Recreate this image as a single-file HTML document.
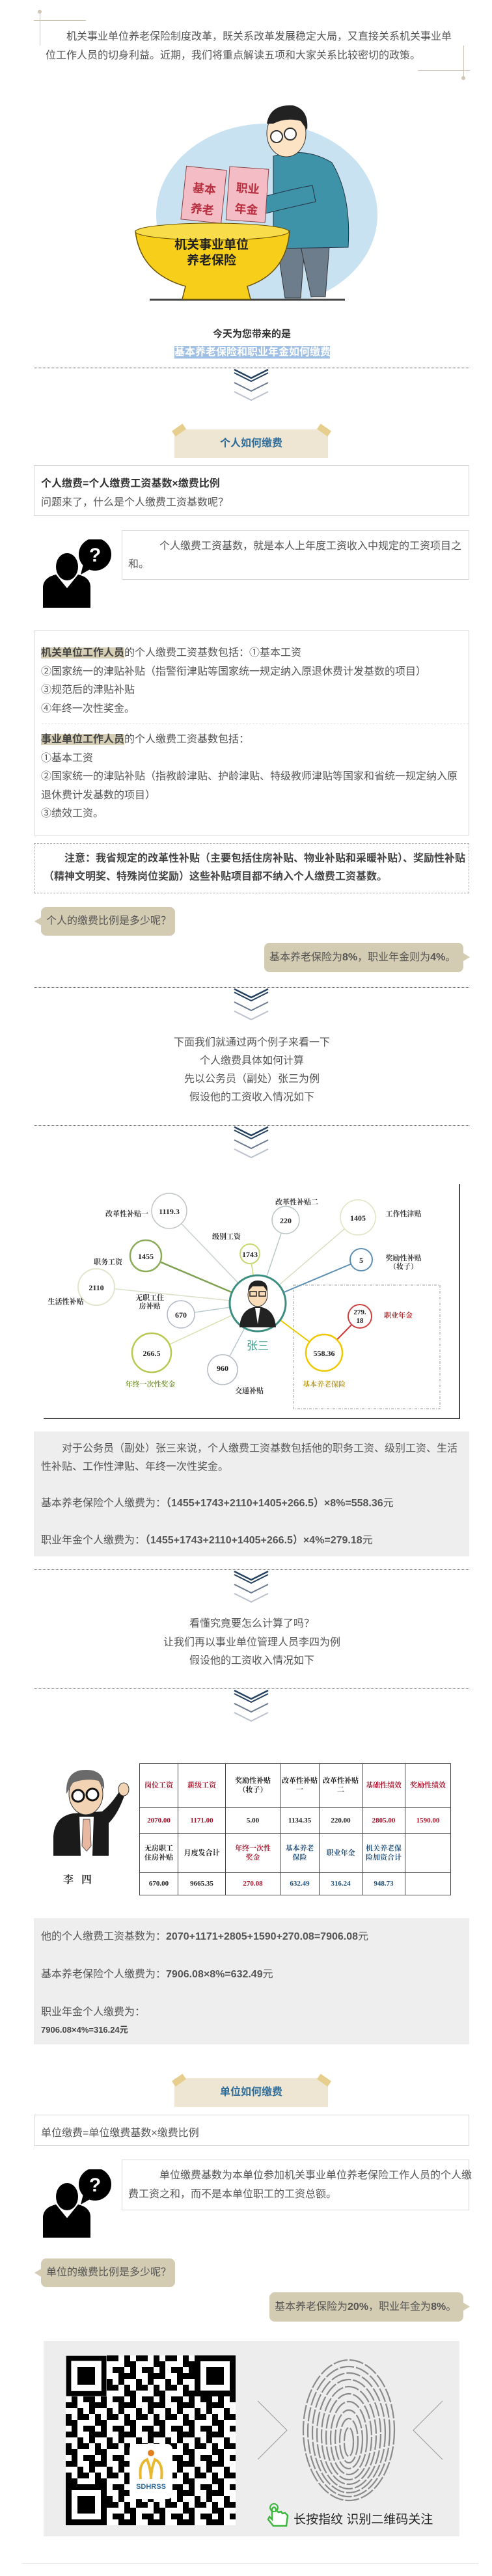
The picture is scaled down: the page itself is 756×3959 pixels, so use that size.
<!DOCTYPE html>
<html><head><meta charset="utf-8">
<style>
*{margin:0;padding:0;box-sizing:border-box}
body{width:756px;height:3959px;position:relative;background:#fff;font-family:"Liberation Sans","Noto Sans CJK SC",sans-serif;color:#555;overflow:hidden}
.a{position:absolute}
.t{font-size:16px;white-space:nowrap}
.dot{position:absolute;left:52px;width:669px;border-top:1px dotted #444;height:0}
.box{position:absolute;border:1px solid #d8d8d4;background:#fff}
.bub{position:absolute;background:#d3ccb2;border-radius:8px;font-size:16px;color:#555;white-space:nowrap}
.gray{position:absolute;left:52px;width:669px;background:#eeeeee}
.hl{background:#d6cfb5;font-weight:bold;color:#444}
.tab{position:absolute;left:268px;width:236px;height:44px;background:#efe5d3;text-align:center;font-size:16px;font-weight:bold;color:#2e6d9a}
.tape{position:absolute;width:20px;height:10px;background:#e6cf8e}
table.tb{position:absolute;left:214px;top:2710px;width:479px;border-collapse:collapse;font-family:"Liberation Serif","Noto Serif CJK SC",serif;font-weight:bold;font-size:11px;text-align:center;color:#222}
table.tb td{border:1.5px solid #444;padding:0 1px;line-height:14px}
.r{color:#a8122a}.b{color:#1e4e7a}
</style></head><body>

<!-- intro corners -->
<div class="a" style="left:61px;top:17px;width:1px;height:53px;background:#cfc7b3"></div>
<div class="a" style="left:52px;top:31px;width:80px;height:1px;background:#cfc7b3"></div>
<div class="a" style="left:58px;top:15px;width:6px;height:6px;border-radius:3px;background:#cfc7b3"></div>
<div class="a" style="left:712px;top:70px;width:1px;height:50px;background:#cfc7b3"></div>
<div class="a" style="left:642px;top:108px;width:80px;height:1px;background:#cfc7b3"></div>
<div class="a" style="left:709px;top:117px;width:6px;height:6px;border-radius:3px;background:#cfc7b3"></div>
<div class="a t" style="left:70px;top:42px;line-height:29px;">　　机关事业单位养老保险制度改革，既关系改革发展稳定大局，又直接关系机关事业单<br>位工作人员的切身利益。近期，我们将重点解读五项和大家关系比较密切的政策。</div>

<!-- illustration -->
<svg class="a" style="left:200px;top:145px" width="390" height="320" viewBox="200 145 390 320">
<defs><clipPath id="cp"><rect x="200" y="145" width="390" height="317"/></clipPath></defs>
<g clip-path="url(#cp)">
<ellipse cx="410" cy="330" rx="170" ry="140" fill="#c9e2f1"/>
<rect x="230" y="459" width="300" height="3" fill="#444"/>
<!-- legs -->
<path d="M426 378 L468 378 L462 458 L438 458 Z" fill="#6d7d8c" stroke="#333"/>
<path d="M462 378 L506 378 L500 456 L478 456 Z" fill="#6d7d8c" stroke="#333"/>
<!-- body -->
<path d="M420 240 Q470 225 510 250 Q540 300 535 380 L420 382 Z" fill="#3f93a8" stroke="#234"/>
<path d="M395 305 Q450 290 480 285 L485 310 Q440 320 400 330 Z" fill="#3f93a8" stroke="#234"/>
<!-- head -->
<ellipse cx="440" cy="205" rx="30" ry="36" fill="#fbe3c3" stroke="#333"/>
<path d="M410 190 Q415 160 450 162 Q475 168 472 200 L462 186 Q440 180 420 190 Z" fill="#222"/>
<circle cx="425" cy="210" r="9" fill="#fff" stroke="#333" stroke-width="2"/>
<circle cx="446" cy="206" r="9" fill="#fff" stroke="#333" stroke-width="2"/>
<!-- books -->
<g transform="rotate(6 310 300)"><rect x="282" y="258" width="62" height="82" fill="#f4bdc5" stroke="#844"/>
<text x="313" y="296" font-size="18" font-weight="bold" fill="#b83040" text-anchor="middle" font-family="Noto Sans CJK SC">基本</text>
<text x="313" y="328" font-size="18" font-weight="bold" fill="#b83040" text-anchor="middle" font-family="Noto Sans CJK SC">养老</text></g>
<g transform="rotate(4 380 300)"><rect x="350" y="258" width="60" height="82" fill="#f4bdc5" stroke="#844"/>
<text x="380" y="296" font-size="18" font-weight="bold" fill="#b83040" text-anchor="middle" font-family="Noto Sans CJK SC">职业</text>
<text x="380" y="328" font-size="18" font-weight="bold" fill="#b83040" text-anchor="middle" font-family="Noto Sans CJK SC">年金</text></g>
<!-- bowl -->
<path d="M208 355 Q325 340 445 355 Q440 420 380 440 L385 460 L280 460 L285 440 Q215 420 208 355 Z" fill="#f7cf1a" stroke="#6a5200" stroke-width="1.5"/>
<ellipse cx="326" cy="356" rx="118" ry="13" fill="#f9dc4a" stroke="#6a5200"/>
<text x="325" y="382" font-size="19" font-weight="bold" fill="#222" text-anchor="middle" font-family="Noto Sans CJK SC">机关事业单位</text>
<text x="325" y="406" font-size="19" font-weight="bold" fill="#222" text-anchor="middle" font-family="Noto Sans CJK SC">养老保险</text>
</g></svg>

<div class="a" style="left:0;width:774px;top:502px;text-align:center;font-size:15px;font-weight:bold;color:#333">今天为您带来的是</div>
<div class="a" style="left:268px;top:532px;width:239px;height:19px;background:#9fbfe4;color:#fff;font-weight:bold;font-size:16px;line-height:19px;white-space:nowrap">基本养老保险和职业年金如何缴费</div>

<div class="dot" style="top:565px"></div>
<svg class="a" style="left:359px;top:566px" width="54" height="52"><polyline points="1,2 27,15 53,2" fill="none" stroke="#23405f" stroke-width="2.5"/><polyline points="1,7 27,20 53,7" fill="none" stroke="#23405f" stroke-width="2"/><polyline points="1,22 27,35 53,22" fill="none" stroke="#6b7a90" stroke-width="2"/><polyline points="1,36 27,49 53,36" fill="none" stroke="#b9c0cb" stroke-width="2"/></svg>

<!-- tab 1 -->
<div class="tab" style="top:660px;line-height:44px">个人如何缴费</div>
<div class="tape" style="left:265px;top:656px;transform:rotate(-35deg)"></div>
<div class="tape" style="left:488px;top:656px;transform:rotate(35deg)"></div>

<div class="box" style="left:52px;top:715px;width:669px;height:78px"></div>
<div class="a t" style="left:63px;top:729px;font-weight:bold;color:#333">个人缴费=个人缴费工资基数×缴费比例</div>
<div class="a t" style="left:63px;top:758px">问题来了，什么是个人缴费工资基数呢？</div>

<svg class="a" style="left:66px;top:829px" width="110" height="105"><path d="M0 105 L0 72 Q2 58 20 54 L37 75 L54 54 Q72 58 73 72 L73 105 Z" fill="#000"/><ellipse cx="37" cy="42" rx="17" ry="21" fill="#000"/><circle cx="80" cy="23" r="25" fill="#000"/><path d="M62 38 L58 54 L74 45 Z" fill="#000"/><text x="80" y="34" font-size="30" font-weight="bold" fill="#fff" text-anchor="middle" font-family="Liberation Sans">?</text></svg>
<div class="box" style="left:187px;top:815px;width:534px;height:76px"></div>
<div class="a t" style="left:197px;top:826px;line-height:28px">　　　个人缴费工资基数，就是本人上年度工资收入中规定的工资项目之<br>和。</div>

<div class="box" style="left:52px;top:969px;width:669px;height:315px"></div>
<div class="a t" style="left:63px;top:990px;line-height:28.5px"><span class="hl">机关单位工作人员</span>的个人缴费工资基数包括：①基本工资<br>②国家统一的津贴补贴（指警衔津贴等国家统一规定纳入原退休费计发基数的项目）<br>③规范后的津贴补贴<br>④年终一次性奖金。</div>
<div class="a" style="left:64px;top:1112px;width:656px;border-top:1px dashed #ddd"></div>
<div class="a t" style="left:63px;top:1123px;line-height:28.5px"><span class="hl">事业单位工作人员</span>的个人缴费工资基数包括：<br>①基本工资<br>②国家统一的津贴补贴（指教龄津贴、护龄津贴、特级教师津贴等国家和省统一规定纳入原<br>退休费计发基数的项目）<br>③绩效工资。</div>

<div class="a" style="left:52px;top:1296px;width:669px;height:77px;border:1px dashed #aaa"></div>
<div class="a t" style="left:67px;top:1306px;line-height:28px;font-weight:bold;color:#444">　　注意：我省规定的改革性补贴（主要包括住房补贴、物业补贴和采暖补贴）、奖励性补贴<br>（精神文明奖、特殊岗位奖励）这些补贴项目都不纳入个人缴费工资基数。</div>

<div class="bub" style="left:63px;top:1394px;width:206px;height:44px;line-height:44px;padding-left:8px">个人的缴费比例是多少呢？</div>
<div class="a" style="left:53px;top:1410px;border:6px solid transparent;border-right:10px solid #d3ccb2;border-left:0"></div>
<div class="bub" style="left:406px;top:1449px;width:306px;height:45px;line-height:45px;padding-left:8px">基本养老保险为<b>8%</b>，职业年金则为<b>4%</b>。</div>
<div class="a" style="left:712px;top:1465px;border:6px solid transparent;border-left:10px solid #d3ccb2;border-right:0"></div>

<div class="dot" style="top:1517px"></div>
<svg class="a" style="left:359px;top:1518px" width="54" height="52"><polyline points="1,2 27,15 53,2" fill="none" stroke="#23405f" stroke-width="2.5"/><polyline points="1,7 27,20 53,7" fill="none" stroke="#23405f" stroke-width="2"/><polyline points="1,22 27,35 53,22" fill="none" stroke="#6b7a90" stroke-width="2"/><polyline points="1,36 27,49 53,36" fill="none" stroke="#b9c0cb" stroke-width="2"/></svg>

<div class="a t" style="left:0;width:774px;top:1589px;line-height:28px;text-align:center">下面我们就通过两个例子来看一下<br>个人缴费具体如何计算<br>先以公务员（副处）张三为例<br>假设他的工资收入情况如下</div>

<div class="dot" style="top:1729px"></div>
<svg class="a" style="left:359px;top:1730px" width="54" height="52"><polyline points="1,2 27,15 53,2" fill="none" stroke="#23405f" stroke-width="2.5"/><polyline points="1,7 27,20 53,7" fill="none" stroke="#23405f" stroke-width="2"/><polyline points="1,22 27,35 53,22" fill="none" stroke="#6b7a90" stroke-width="2"/><polyline points="1,36 27,49 53,36" fill="none" stroke="#b9c0cb" stroke-width="2"/></svg>

<!-- diagram -->
<svg class="a" style="left:0;top:1815px" width="756" height="370" viewBox="0 1815 756 370" font-family="Liberation Serif, Noto Serif CJK SC, serif" font-weight="bold">
<line x1="706" y1="1820" x2="706" y2="2181" stroke="#111" stroke-width="1.5"/>
<line x1="67" y1="2180" x2="706" y2="2180" stroke="#111" stroke-width="1.5"/>
<rect x="451" y="1975" width="225" height="190" fill="none" stroke="#999" stroke-dasharray="4,2,1,2"/>
<g stroke-width="1.5">
<line x1="396" y1="2003" x2="260" y2="1861" stroke="#c8d0d0"/>
<line x1="396" y1="2003" x2="439" y2="1875" stroke="#b8c8c8"/>
<line x1="396" y1="2003" x2="550" y2="1871" stroke="#d8e0c0"/>
<line x1="396" y1="2003" x2="384" y2="1927" stroke="#c8d870"/>
<line x1="396" y1="2003" x2="224" y2="1930" stroke="#7ea050" stroke-width="2.5"/>
<line x1="396" y1="2003" x2="555" y2="1936" stroke="#5b8fb3" stroke-width="2"/>
<line x1="396" y1="2003" x2="148" y2="1978" stroke="#d8e0c8"/>
<line x1="396" y1="2003" x2="278" y2="2020" stroke="#b8ccd0"/>
<line x1="396" y1="2003" x2="233" y2="2079" stroke="#d8e0b0"/>
<line x1="396" y1="2003" x2="342" y2="2105" stroke="#b8c8d0"/>
<line x1="396" y1="2003" x2="498" y2="2079" stroke="#e8c800" stroke-width="2"/>
<line x1="498" y1="2079" x2="553" y2="2023" stroke="#d03030" stroke-width="2"/>
</g>
<g fill="#fff">
<circle cx="260" cy="1861" r="27" stroke="#c0c4c4" stroke-width="1.5"/>
<circle cx="439" cy="1875" r="21" stroke="#b8c4c4" stroke-width="1.5"/>
<circle cx="550" cy="1871" r="27" stroke="#dfe4c0" stroke-width="1.5"/>
<circle cx="384" cy="1927" r="15" stroke="#c8d870" stroke-width="2"/>
<circle cx="224" cy="1930" r="24" stroke="#8aab58" stroke-width="2.5"/>
<circle cx="555" cy="1936" r="17" stroke="#5b8fb3" stroke-width="2"/>
<circle cx="148" cy="1978" r="28" stroke="#e0e6cc" stroke-width="2"/>
<circle cx="278" cy="2020" r="21" stroke="#b0b8c4" stroke-width="1.5"/>
<circle cx="233" cy="2079" r="30" stroke="#b8c850" stroke-width="2.5"/>
<circle cx="342" cy="2105" r="23" stroke="#b0b8c0" stroke-width="1.5"/>
<circle cx="498" cy="2079" r="28" stroke="#f0c800" stroke-width="2.5"/>
<circle cx="553" cy="2023" r="18" stroke="#d04040" stroke-width="2"/>
<circle cx="396" cy="2003" r="43" stroke="#3c8f80" stroke-width="3"/>
</g>
<!-- center cartoon -->
<path d="M368 2040 Q370 2010 396 2008 Q422 2010 424 2040 Z" fill="#222"/>
<path d="M392 2010 L396 2035 L400 2010 Z" fill="#fff"/>
<ellipse cx="396" cy="1990" rx="15" ry="18" fill="#fbdcb8" stroke="#333"/>
<path d="M381 1985 Q382 1968 396 1968 Q412 1968 411 1985 L405 1977 L388 1977 Z" fill="#222"/>
<rect x="384" y="1985" width="10" height="7" fill="none" stroke="#222" stroke-width="1.5"/>
<rect x="398" y="1985" width="10" height="7" fill="none" stroke="#222" stroke-width="1.5"/>
<g font-size="12" fill="#222" text-anchor="middle">
<text x="260" y="1866">1119.3</text><text x="439" y="1880">220</text><text x="550" y="1876">1405</text>
<text x="384" y="1932">1743</text><text x="224" y="1935">1455</text><text x="555" y="1941">5</text>
<text x="148" y="1983">2110</text><text x="278" y="2025">670</text><text x="233" y="2084">266.5</text>
<text x="342" y="2107">960</text><text x="498" y="2084">558.36</text>
<text x="553" y="2020" font-size="11">279.</text><text x="553" y="2033" font-size="11">18</text>
</g>
<g font-size="11" fill="#333" text-anchor="middle">
<text x="195" y="1869">改革性补贴一</text><text x="456" y="1851">改革性补贴二</text><text x="620" y="1869">工作性津贴</text>
<text x="348" y="1904">级别工资</text><text x="166" y="1943">职务工资</text>
<text x="620" y="1937">奖励性补贴</text><text x="620" y="1950">（妆子）</text>
<text x="101" y="2004">生活性补贴</text><text x="230" y="1998">无职工住</text><text x="230" y="2011">房补贴</text>
<text x="383" y="2141">交通补贴</text>
<text x="231" y="2131" fill="#7a9a30">年终一次性奖金</text>
<text x="498" y="2131" fill="#b89a20">基本养老保险</text>
<text x="612" y="2025" fill="#b02020">职业年金</text>
</g>
<text x="396" y="2074" font-size="17" fill="#3c9f90" text-anchor="middle" font-weight="normal" font-family="Noto Sans CJK SC">张三</text>
</svg>

<div class="gray" style="top:2200px;height:192px"></div>
<div class="a t" style="left:63px;top:2213px;line-height:28px">　　对于公务员（副处）张三来说，个人缴费工资基数包括他的职务工资、级别工资、生活<br>性补贴、工作性津贴、年终一次性奖金。</div>
<div class="a t" style="left:63px;top:2297px;line-height:28px">基本养老保险个人缴费为：<b>（1455+1743+2110+1405+266.5）×8%=558.36</b>元</div>
<div class="a t" style="left:63px;top:2354px;line-height:28px">职业年金个人缴费为：<b>（1455+1743+2110+1405+266.5）×4%=279.18</b>元</div>

<div class="dot" style="top:2412px"></div>
<svg class="a" style="left:359px;top:2413px" width="54" height="52"><polyline points="1,2 27,15 53,2" fill="none" stroke="#23405f" stroke-width="2.5"/><polyline points="1,7 27,20 53,7" fill="none" stroke="#23405f" stroke-width="2"/><polyline points="1,22 27,35 53,22" fill="none" stroke="#6b7a90" stroke-width="2"/><polyline points="1,36 27,49 53,36" fill="none" stroke="#b9c0cb" stroke-width="2"/></svg>

<div class="a t" style="left:0;width:774px;top:2482px;line-height:28.5px;text-align:center">看懂究竟要怎么计算了吗？<br>让我们再以事业单位管理人员李四为例<br>假设他的工资收入情况如下</div>

<div class="dot" style="top:2595px"></div>
<svg class="a" style="left:359px;top:2596px" width="54" height="52"><polyline points="1,2 27,15 53,2" fill="none" stroke="#23405f" stroke-width="2.5"/><polyline points="1,7 27,20 53,7" fill="none" stroke="#23405f" stroke-width="2"/><polyline points="1,22 27,35 53,22" fill="none" stroke="#6b7a90" stroke-width="2"/><polyline points="1,36 27,49 53,36" fill="none" stroke="#b9c0cb" stroke-width="2"/></svg>

<!-- Li Si -->
<svg class="a" style="left:72px;top:2712px" width="130" height="145">
<path d="M10 140 L10 110 Q12 80 40 75 L85 72 Q100 60 112 40 L120 45 Q110 75 95 90 L95 140 Z" fill="#1a1a1a"/>
<path d="M50 80 L72 80 L70 140 L52 140 Z" fill="#fff"/>
<path d="M56 84 L66 84 L68 125 L61 133 L54 125 Z" fill="#e9b8a0" stroke="#555"/>
<ellipse cx="60" cy="45" rx="26" ry="32" fill="#f2d3b3" stroke="#333"/>
<path d="M30 45 Q28 8 60 8 Q90 8 88 38 L80 25 Q60 20 40 28 Z" fill="#6a6a6a"/>
<circle cx="48" cy="48" r="9" fill="#fff" stroke="#111" stroke-width="3"/>
<circle cx="70" cy="46" r="9" fill="#fff" stroke="#111" stroke-width="3"/>
<ellipse cx="118" cy="38" rx="8" ry="10" fill="#f2d3b3" stroke="#333"/>
</svg>
<div class="a" style="left:97px;top:2876px;font-size:16px;font-weight:bold;color:#333;font-family:'Liberation Serif','Noto Serif CJK SC',serif;letter-spacing:12px">李四</div>

<table class="tb">
<tr style="height:67px"><td class="r" style="width:59px">岗位工资</td><td class="r" style="width:73px">薪级工资</td><td style="width:84px">奖励性补贴<br>（妆子）</td><td style="width:60px">改革性补贴<br>一</td><td style="width:66px">改革性补贴<br>二</td><td class="r" style="width:66px">基础性绩效</td><td class="r" style="width:70px">奖励性绩效</td></tr>
<tr style="height:40px"><td class="r">2070.00</td><td class="r">1171.00</td><td>5.00</td><td>1134.35</td><td>220.00</td><td class="r">2805.00</td><td class="r">1590.00</td></tr>
<tr style="height:60px"><td>无房职工<br>住房补贴</td><td>月度发合计</td><td class="r">年终一次性<br>奖金</td><td class="b">基本养老<br>保险</td><td class="b">职业年金</td><td class="b">机关养老保<br>险加资合计</td><td></td></tr>
<tr style="height:35px"><td>670.00</td><td>9665.35</td><td class="r">270.08</td><td class="b">632.49</td><td class="b">316.24</td><td class="b">948.73</td><td></td></tr>
</table>

<div class="gray" style="top:2948px;height:194px"></div>
<div class="a t" style="left:63px;top:2962px">他的个人缴费工资基数为：<b>2070+1171+2805+1590+270.08=7906.08</b>元</div>
<div class="a t" style="left:63px;top:3020px">基本养老保险个人缴费为：<b>7906.08×8%=632.49</b>元</div>
<div class="a t" style="left:63px;top:3078px">职业年金个人缴费为：</div>
<div class="a" style="left:63px;top:3109px;font-size:13px;font-weight:bold;color:#444">7906.08×4%=316.24元</div>

<!-- tab 2 -->
<div class="tab" style="top:3194px;line-height:44px">单位如何缴费</div>
<div class="tape" style="left:265px;top:3192px;transform:rotate(-35deg)"></div>
<div class="tape" style="left:488px;top:3192px;transform:rotate(35deg)"></div>

<div class="box" style="left:52px;top:3250px;width:669px;height:48px"></div>
<div class="a t" style="left:63px;top:3264px">单位缴费=单位缴费基数×缴费比例</div>

<svg class="a" style="left:66px;top:3334px" width="110" height="105"><path d="M0 105 L0 72 Q2 58 20 54 L37 75 L54 54 Q72 58 73 72 L73 105 Z" fill="#000"/><ellipse cx="37" cy="42" rx="17" ry="21" fill="#000"/><circle cx="80" cy="23" r="25" fill="#000"/><path d="M62 38 L58 54 L74 45 Z" fill="#000"/><text x="80" y="34" font-size="30" font-weight="bold" fill="#fff" text-anchor="middle" font-family="Liberation Sans">?</text></svg>
<div class="box" style="left:187px;top:3319px;width:534px;height:78px"></div>
<div class="a t" style="left:197px;top:3329px;line-height:29px">　　　单位缴费基数为本单位参加机关事业单位养老保险工作人员的个人缴<br>费工资之和，而不是本单位职工的工资总额。</div>

<div class="bub" style="left:63px;top:3471px;width:206px;height:44px;line-height:44px;padding-left:8px">单位的缴费比例是多少呢？</div>
<div class="a" style="left:53px;top:3487px;border:6px solid transparent;border-right:10px solid #d3ccb2;border-left:0"></div>
<div class="bub" style="left:414px;top:3523px;width:298px;height:45px;line-height:45px;padding-left:8px">基本养老保险为<b>20%</b>，职业年金为<b>8%</b>。</div>
<div class="a" style="left:712px;top:3539px;border:6px solid transparent;border-left:10px solid #d3ccb2;border-right:0"></div>

<!-- QR panel -->
<div class="a" style="left:67px;top:3598px;width:639px;height:300px;background:#ededed"></div>
<svg class="a" style="left:101px;top:3620px" width="261" height="261">
<defs><pattern id="qp" width="45" height="45" patternUnits="userSpaceOnUse">
<rect width="45" height="45" fill="#fff"/>
<rect x="0" y="0" width="9" height="18" fill="#000"/><rect x="18" y="0" width="18" height="9" fill="#000"/><rect x="9" y="18" width="9" height="9" fill="#000"/><rect x="27" y="18" width="18" height="9" fill="#000"/><rect x="0" y="27" width="18" height="9" fill="#000"/><rect x="36" y="27" width="9" height="18" fill="#000"/><rect x="18" y="36" width="9" height="9" fill="#000"/><rect x="9" y="9" width="9" height="9" fill="#000"/>
</pattern></defs>
<rect width="261" height="261" fill="url(#qp)"/>
<g><rect x="0" y="0" width="63" height="63" fill="#fff"/><rect x="0" y="0" width="63" height="63" fill="none" stroke="#000" stroke-width="9" transform="translate(4.5 4.5) scale(.86)"/><rect x="18" y="18" width="27" height="27" fill="#000"/></g>
<g transform="translate(198 0)"><rect width="63" height="63" fill="#fff"/><rect x="4.5" y="4.5" width="54" height="54" fill="none" stroke="#000" stroke-width="9"/><rect x="18" y="18" width="27" height="27" fill="#000"/></g>
<g transform="translate(0 198)"><rect width="63" height="63" fill="#fff"/><rect x="4.5" y="4.5" width="54" height="54" fill="none" stroke="#000" stroke-width="9"/><rect x="18" y="18" width="27" height="27" fill="#000"/></g>
<rect x="98" y="136" width="66" height="85" rx="8" fill="#fff"/>
<circle cx="131" cy="150" r="5" fill="#e08020"/>
<path d="M115 190 Q112 165 125 160 Q131 175 131 190 Q131 175 137 160 Q150 165 147 190" fill="none" stroke="#e8b830" stroke-width="4"/>
<text x="131" y="205" font-size="11" font-weight="bold" fill="#2f6ea0" text-anchor="middle" font-family="Liberation Sans">SDHRSS</text>
</svg>
<svg class="a" style="left:396px;top:3620px" width="290" height="270">
<polyline points="0,70 45,115 0,160" fill="none" stroke="#999" stroke-width="1"/>
<polyline points="284,70 239,115 284,160" fill="none" stroke="#999" stroke-width="1"/>
<g fill="none" stroke="#8a8a8a" stroke-width="2.2" stroke-dasharray="22 3">
<ellipse cx="140" cy="115" rx="70" ry="108"/><ellipse cx="140" cy="117" rx="63" ry="100"/><ellipse cx="140" cy="119" rx="56" ry="92"/><ellipse cx="140" cy="121" rx="49" ry="84"/><ellipse cx="140" cy="123" rx="42" ry="75"/><ellipse cx="140" cy="125" rx="35" ry="66"/><ellipse cx="140" cy="127" rx="28" ry="56"/><ellipse cx="140" cy="129" rx="21" ry="45"/><ellipse cx="140" cy="131" rx="14" ry="34"/><ellipse cx="140" cy="133" rx="7" ry="22"/>
</g></svg>
<svg class="a" style="left:410px;top:3846px" width="36" height="38"><path d="M8 10 L8 26 L4 22 L2 26 L10 36 L30 36 L32 20 L28 16 L24 17 L22 14 L18 15 L14 12 L14 10 Q11 5 8 10 Z" fill="#fff" stroke="#3cb83c" stroke-width="2.5"/><circle cx="11" cy="8" r="6" fill="none" stroke="#3cb83c" stroke-width="2"/></svg>
<div class="a" style="left:451px;top:3857px;font-size:19px;color:#222;white-space:nowrap">长按指纹 识别二维码关注</div>

<div class="a" style="left:34px;top:3939px;width:701px;height:1px;background:#e4e4e4"></div>
</body></html>
